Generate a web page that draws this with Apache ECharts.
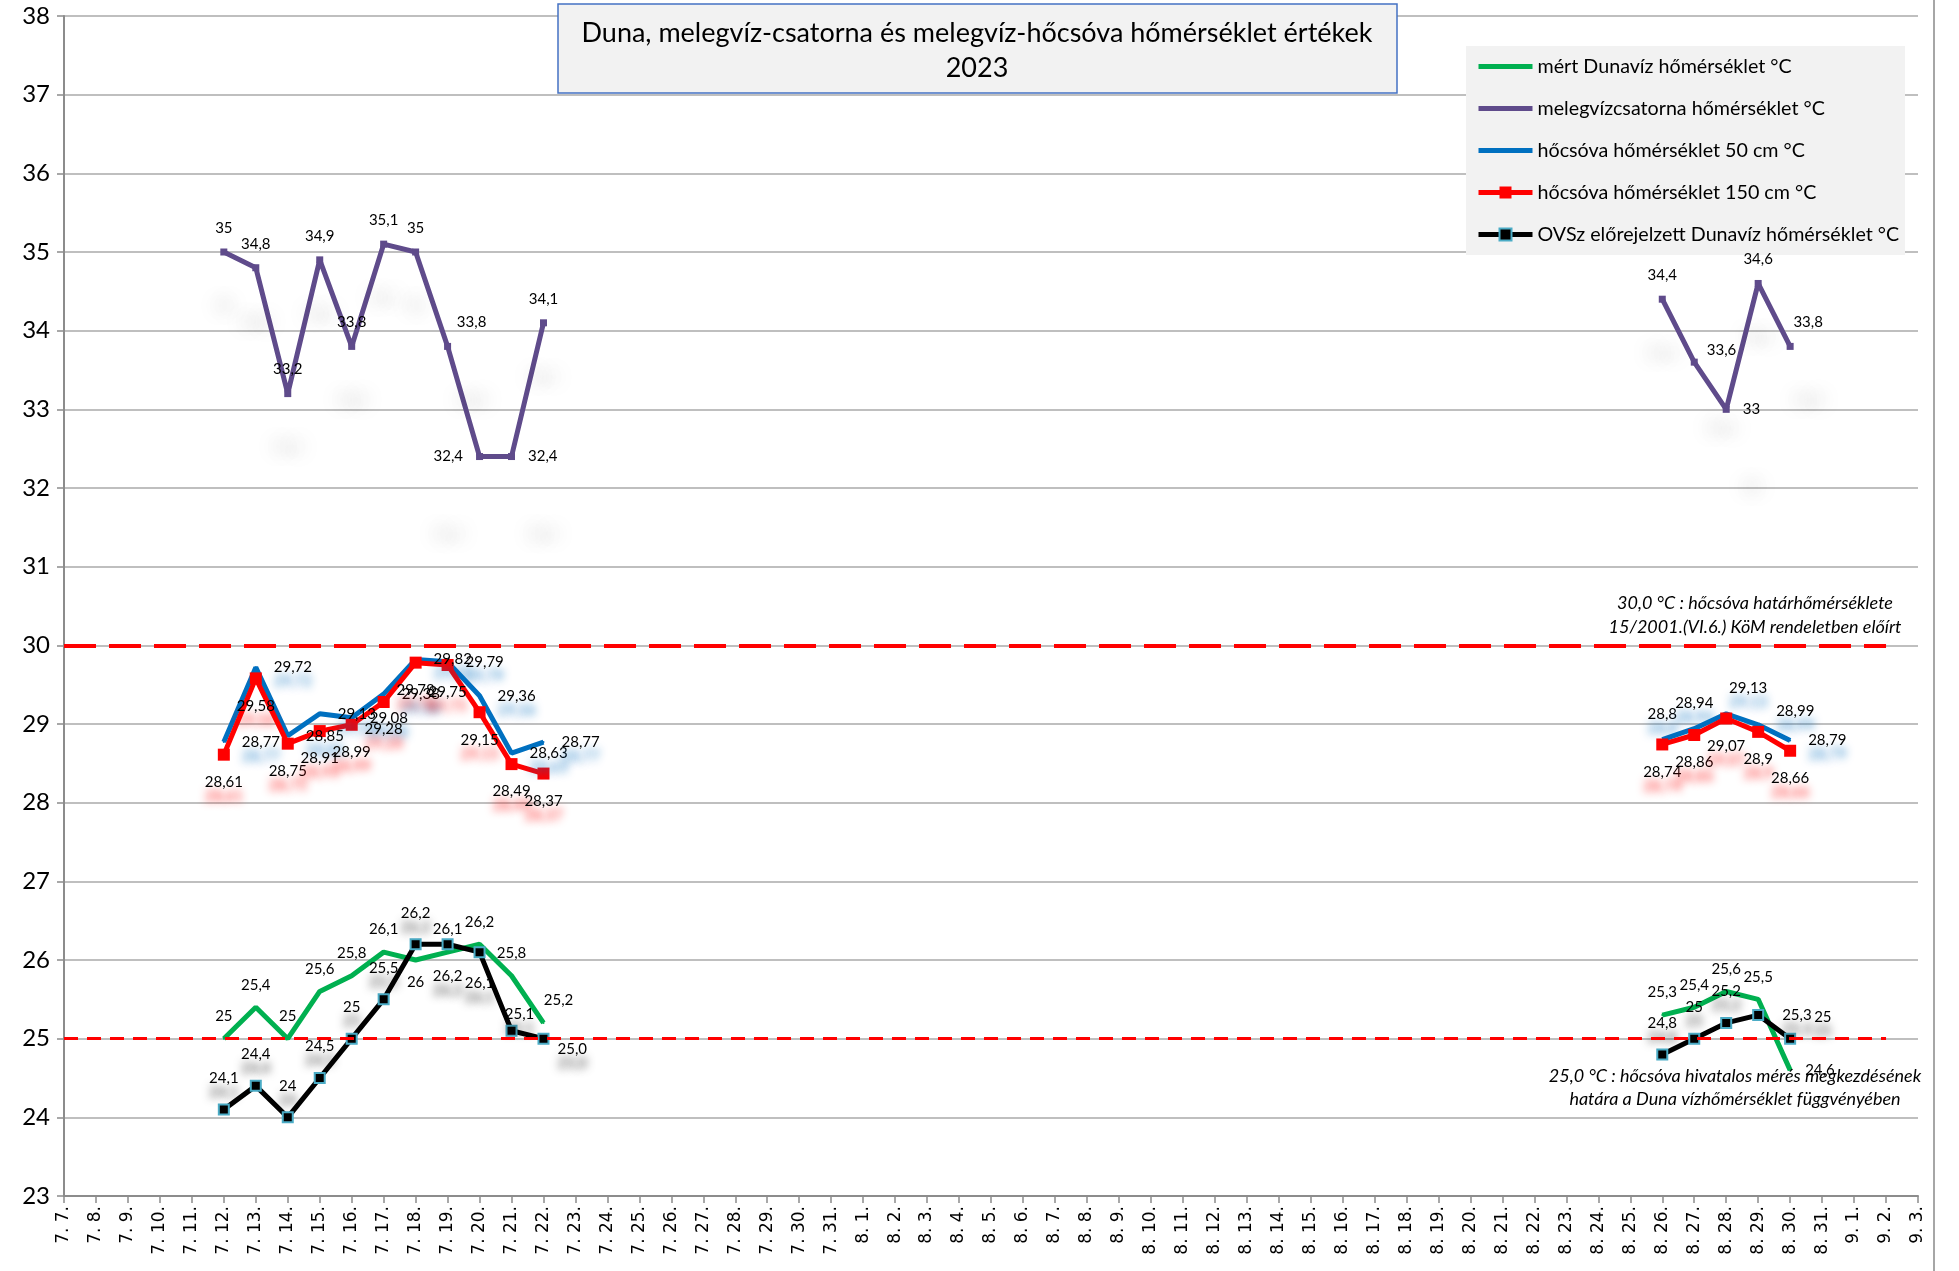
<!DOCTYPE html>
<html><head><meta charset="utf-8">
<script src="https://cdn.jsdelivr.net/npm/echarts@6/dist/echarts.min.js"></script>
<style>html,body{margin:0;padding:0;background:#fff}#c{width:1959px;height:1271px}</style>
</head><body><div id="c"></div>
<script>
// ---------------- DATA ----------------
const N = null;
const categories = ['7. 7.','7. 8.','7. 9.','7. 10.','7. 11.','7. 12.','7. 13.','7. 14.','7. 15.','7. 16.','7. 17.','7. 18.','7. 19.','7. 20.','7. 21.','7. 22.','7. 23.','7. 24.','7. 25.','7. 26.','7. 27.','7. 28.','7. 29.','7. 30.','7. 31.',
'8. 1.','8. 2.','8. 3.','8. 4.','8. 5.','8. 6.','8. 7.','8. 8.','8. 9.','8. 10.','8. 11.','8. 12.','8. 13.','8. 14.','8. 15.','8. 16.','8. 17.','8. 18.','8. 19.','8. 20.','8. 21.','8. 22.','8. 23.','8. 24.','8. 25.','8. 26.','8. 27.','8. 28.','8. 29.','8. 30.','8. 31.',
'9. 1.','9. 2.','9. 3.'];

const seriesNames = ['mért Dunavíz hőmérséklet °C','melegvízcsatorna hőmérséklet °C','hőcsóva hőmérséklet 50 cm °C','hőcsóva hőmérséklet 150 cm °C','OVSz előrejelzett Dunavíz hőmérséklet °C'];

const duna = [N,N,N,N,N, 25,25.4,25,25.6,25.8,26.1,26,26.1,26.2,25.8,25.2,
 N,N,N,N,N,N,N,N,N,N, N,N,N,N,N,N,N,N,N,N, N,N,N,N,N,N,N,N,N,N, N,N,N,N,
 25.3,25.4,25.6,25.5,24.6, N,N,N,N];
const csatorna = [N,N,N,N,N, 35,34.8,33.2,34.9,33.8,35.1,35,33.8,32.4,32.4,34.1,
 N,N,N,N,N,N,N,N,N,N, N,N,N,N,N,N,N,N,N,N, N,N,N,N,N,N,N,N,N,N, N,N,N,N,
 34.4,33.6,33,34.6,33.8, N,N,N,N];
const csova50 = [N,N,N,N,N, 28.77,29.72,28.85,29.13,29.08,29.38,29.82,29.79,29.36,28.63,28.77,
 N,N,N,N,N,N,N,N,N,N, N,N,N,N,N,N,N,N,N,N, N,N,N,N,N,N,N,N,N,N, N,N,N,N,
 28.8,28.94,29.13,28.99,28.79, N,N,N,N];
const csova150 = [N,N,N,N,N, 28.61,29.58,28.75,28.91,28.99,29.28,29.78,29.75,29.15,28.49,28.37,
 N,N,N,N,N,N,N,N,N,N, N,N,N,N,N,N,N,N,N,N, N,N,N,N,N,N,N,N,N,N, N,N,N,N,
 28.74,28.86,29.07,28.9,28.66, N,N,N,N];
const ovsz = [N,N,N,N,N, 24.1,24.4,24,24.5,25,25.5,26.2,26.2,26.1,25.1,25.0,
 N,N,N,N,N,N,N,N,N,N, N,N,N,N,N,N,N,N,N,N, N,N,N,N,N,N,N,N,N,N, N,N,N,N,
 24.8,25,25.2,25.3,25, N,N,N,N];

const limitHigh = 30, limitLow = 25;
const yMin = 23, yMax = 38, yStep = 1;
const titleText = 'Duna, melegvíz-csatorna és melegvíz-hőcsóva hőmérséklet értékek\n2023';
const noteHigh = '30,0 °C : hőcsóva határhőmérséklete\n15/2001.(VI.6.) KöM rendeletben előírt';
const noteLow = '25,0 °C : hőcsóva hivatalos mérés megkezdésének\nhatára a Duna vízhőmérséklet függvényében';

// ---------------- STYLE ----------------
const F = 'Lato, "Open Sans", sans-serif';
const lblFont = 15;
// label placement tweaks (per data index)
const tweak = {
  duna: {11:{position:'bottom'},15:{position:'top',offset:[15,0]},54:{position:'right'}},
  csatorna: {12:{position:'top',offset:[24,0]},13:{position:'left'},14:{position:'right'},51:{position:'right',offset:[-4,-12]},52:{position:'right'},54:{position:'top',offset:[18,0]}},
  csova50: {50:{position:'top'},51:{position:'top'},52:{position:'top',offset:[22,0]},53:{position:'right',offset:[0,-14]}},
  csova150: {},
  ovsz: {12:{position:'bottom'},13:{position:'bottom'},14:{position:'top',distance:3,offset:[8,0]},15:{position:'right',formatter:'25,0',offset:[-10,10]},53:{position:'right'},54:{position:'right',offset:[0,-22]}}
};
function build(vals, tw){
  return vals.map((v,i)=> v==null ? '-' : (tw[i] ? {value:v, label:tw[i]} : v));
}
const fmt = p => String(p.value).replace('.', ',');
const lineEnd = categories.length - 1.65; // dashed limit lines stop a little before the last tick

const chart = echarts.init(document.getElementById('c'), null, {renderer:'canvas'});
chart.setOption({
  animation:false,
  backgroundColor:'#fff',
  grid:{left:64, right:41, top:16, bottom:75, containLabel:false},
  xAxis:{type:'category', data:categories, boundaryGap:false,
    axisLine:{lineStyle:{color:'#8c8c8c', width:2}},
    axisTick:{show:true, length:7, alignWithLabel:true, lineStyle:{color:'#8c8c8c', width:1.5}},
    axisLabel:{rotate:90, interval:0, fontFamily:'"DejaVu Sans"', fontSize:17, color:'#000', margin:10},
    splitLine:{show:false}},
  yAxis:{type:'value', min:yMin, max:yMax, interval:yStep,
    axisLine:{show:true, lineStyle:{color:'#8c8c8c', width:2}},
    axisTick:{show:true, length:7, lineStyle:{color:'#8c8c8c', width:1.5}},
    axisLabel:{fontFamily:F, fontSize:24, color:'#000', margin:14},
    splitLine:{lineStyle:{color:'#bfbfbf', width:2}}},
  legend:{orient:'vertical', left:1471, top:51, itemWidth:54, itemHeight:15, itemGap:21,
    lineStyle:{width:5},
    textStyle:{fontFamily:F, fontSize:19.7, color:'#000', lineHeight:21},
    data:[
      {name:seriesNames[0], itemStyle:{opacity:0}},
      {name:seriesNames[1], itemStyle:{opacity:0}},
      {name:seriesNames[2], itemStyle:{opacity:0}},
      {name:seriesNames[3]},
      {name:seriesNames[4]}
    ]},
  graphic:[
    {type:'rect', z:3, shape:{x:558,y:4,width:839,height:89}, style:{fill:'#F2F2F2', stroke:'#4472C4', lineWidth:1.5}},
    {type:'text', z:5, x:977, y:51, style:{text:titleText, fill:'#000', font:'27px '+F, align:'center', verticalAlign:'middle', lineHeight:35}},
    {type:'rect', z:3, shape:{x:1466,y:46,width:439,height:209}, style:{fill:'#F2F2F2'}},
    {type:'text', z:5, x:1755, y:615, style:{text:noteHigh, fill:'#000', font:'italic 18px '+F, align:'center', verticalAlign:'middle', lineHeight:24}},
    {type:'text', z:5, x:1735, y:1088, style:{text:noteLow, fill:'#000', font:'italic 18px '+F, align:'center', verticalAlign:'middle', lineHeight:23}},
    {type:'line', z:1, shape:{x1:1934,y1:0,x2:1934,y2:1271}, style:{stroke:'#a6a6a6', lineWidth:2}}
  ],
  series:[
    {name:seriesNames[0], type:'line', data:build(duna, tweak.duna), symbol:'circle', symbolSize:2,
     lineStyle:{color:'#00B050', width:5}, itemStyle:{color:'#00B050'}, connectNulls:false,
     label:{show:true, position:'top', distance:14, formatter:fmt, fontFamily:F, fontSize:lblFont, color:'#000'},
     markLine:{silent:true, symbol:'none', label:{show:false},
       data:[[{coord:[0,limitHigh], lineStyle:{color:'#FF0000', width:4, type:[32,13]}},{coord:[lineEnd,limitHigh]}],
             [{coord:[0,limitLow], lineStyle:{color:'#FF0000', width:3, type:[14,9]}},{coord:[lineEnd,limitLow]}]]}},
    {name:seriesNames[1], type:'line', data:build(csatorna, tweak.csatorna), symbol:'rect', symbolSize:7,
     lineStyle:{color:'#5F4B8B', width:5}, itemStyle:{color:'#5F4B8B'},
     label:{show:true, position:'top', distance:13, formatter:fmt, fontFamily:F, fontSize:lblFont, color:'#000',
       textShadowColor:'rgba(0,0,0,0.35)', textShadowBlur:18, textShadowOffsetY:78}},
    {name:seriesNames[2], type:'line', data:build(csova50, tweak.csova50), symbol:'circle', symbolSize:2,
     lineStyle:{color:'#0070C0', width:5}, itemStyle:{color:'#0070C0'},
     label:{show:true, position:'right', distance:17, formatter:fmt, fontFamily:F, fontSize:lblFont, color:'#000',
       textShadowColor:'rgba(0,112,192,0.9)', textShadowBlur:8, textShadowOffsetY:14}},
    {name:seriesNames[3], type:'line', data:build(csova150, tweak.csova150), symbol:'rect', symbolSize:12,
     lineStyle:{color:'#FF0000', width:5}, itemStyle:{color:'#FF0000'},
     label:{show:true, position:'bottom', distance:14, formatter:fmt, fontFamily:F, fontSize:lblFont, color:'#000',
       textShadowColor:'rgba(255,0,0,0.9)', textShadowBlur:8, textShadowOffsetY:14}},
    {name:seriesNames[4], type:'line', data:build(ovsz, tweak.ovsz), symbol:'rect', symbolSize:10,
     lineStyle:{color:'#000000', width:5}, itemStyle:{color:'#000000', borderColor:'#4BACC6', borderWidth:2},
     label:{show:true, position:'top', distance:18, formatter:fmt, fontFamily:F, fontSize:lblFont, color:'#000',
       textShadowColor:'rgba(0,0,0,0.8)', textShadowBlur:8, textShadowOffsetY:14}}
  ]
});
</script></body></html>
